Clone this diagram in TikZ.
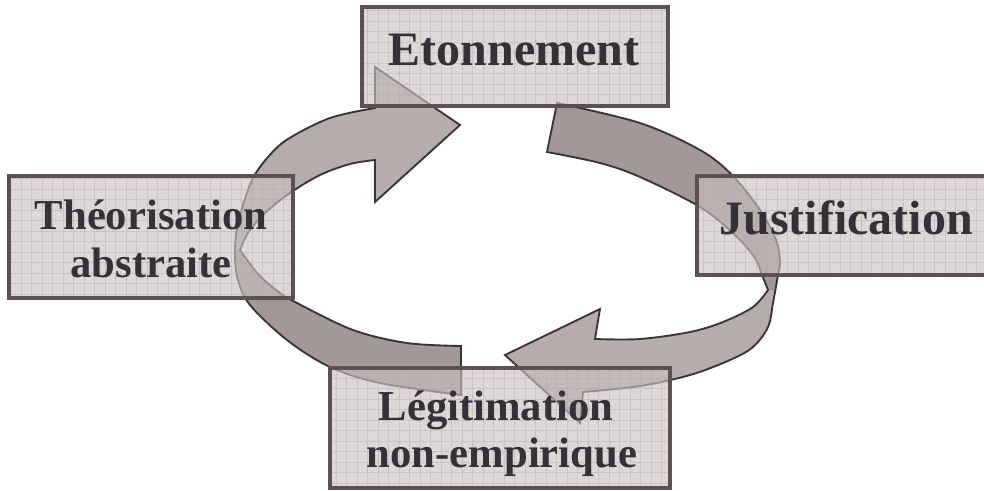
\documentclass[tikz,border=0pt]{standalone}
\usepackage{fontspec}
\setmainfont{Liberation Serif}
\usetikzlibrary{fit}
\definecolor{arrowlight}{RGB}{182,172,172}
\definecolor{arrowdark}{RGB}{163,151,151}
\definecolor{arrowedge}{RGB}{58,52,52}
\definecolor{boxfill}{RGB}{202,193,193}
\definecolor{gridcol}{RGB}{175,166,166}
\definecolor{boxborder}{RGB}{92,80,80}
\definecolor{textcol}{RGB}{52,50,56}
\newcommand\lArrowPath{plot[smooth, tension=0.55] coordinates {(461,395) (380,383) (330,367) (287,340) (250,305) (238,280) (235,255) (237,228) (244,202) (253,178) (268,157) (288,139) (330,118) (375,108)} -- (375,67) -- (460,125) -- (375,202) -- plot[smooth, tension=0.55] coordinates {(375,160) (350,164) (320,175) (290,193) (265,213) (248,233) (240,250)} -- plot[smooth, tension=0.55] coordinates {(240,250) (258,274) (280,293) (297,303) (353,330) (407,343) (461,346)} -- cycle}
\newcommand\rArrowPath{(557,103) -- (547,152) -- plot[smooth, tension=0.55] coordinates {(547,152) (600,163) (640,177) (700,207) (735,235) (755,258) (762,275) (768,290)} -- plot[smooth, tension=0.55] coordinates {(768,290) (753,307) (723,322) (690,332) (640,339) (595,339)} -- (600,309) -- (505,355) -- (580,423) -- plot[smooth, tension=0.55] coordinates {(583,392) (640,386) (690,375) (730,360) (753,347) (768,327) (773,303) (778,275) (780,262) (776,240) (760,210) (732,175) (700,150) (640,123) (557,103)} -- cycle}
\tikzset{
  arrowline/.style={draw=arrowedge, line width=1.4pt, line join=miter},
  boxnode/.style={inner sep=0pt, outer sep=0pt, fill=boxfill, fill opacity=0.64, draw=none},
  gridline/.style={draw=gridcol, draw opacity=0.4, line width=0.5pt},
  boxline/.style={draw=boxborder, line width=3pt},
  lblA/.style={font=\fontsize{36}{40}\selectfont\bfseries, text=textcol, inner sep=0pt, anchor=base},
  lblB/.style={font=\fontsize{32}{36}\selectfont\bfseries, text=textcol, inner sep=0pt, anchor=base},
}
\begin{document}
\begin{tikzpicture}[x=0.75pt, y=-0.75pt]
\useasboundingbox[fill=white] (0,0) rectangle (984,490);
% left arrow (up towards Etonnement)
\fill[arrowlight] \lArrowPath;
\begin{scope}
  \clip \lArrowPath;
  \fill[arrowdark] (200,250) rectangle (470,400);
\end{scope}
\draw[arrowline] \lArrowPath;
% right arrow (down towards Legitimation)
\fill[arrowlight] \rArrowPath;
\begin{scope}
  \clip \rArrowPath;
  \fill[arrowdark] (540,95) rectangle (790,290);
\end{scope}
\draw[arrowline] \rArrowPath;
% boxes
\node[boxnode, fit={(362,7) (668,106)}] (eton) {};
\node[boxnode, fit={(9,176) (293,298)}] (theo) {};
\node[boxnode, fit={(697,176) (988,275)}] (just) {};
\node[boxnode, fit={(330,368) (670,488)}] (legit) {};
\foreach \n in {eton,theo,just,legit}{
  \begin{scope}
    \clip (\n.south west) rectangle (\n.north east);
    \draw[gridline] (\n.south west) grid[step=7.875pt] (\n.north east);
  \end{scope}
  \draw[boxline] (\n.south west) rectangle (\n.north east);
}
% labels
\node[lblA] (etonT) at (514,65) {Etonnement};
\node[lblA] (justT) at (846,234) {Justification};
\node[lblB] (theoT1) at (151,229) {Théorisation};
\node[lblB] (theoT2) at (151,277) {abstraite};
\node[lblB] (legitT1) at (496,420) {Légitimation};
\node[lblB] (legitT2) at (502,467) {non-empirique};
\end{tikzpicture}
\end{document}
